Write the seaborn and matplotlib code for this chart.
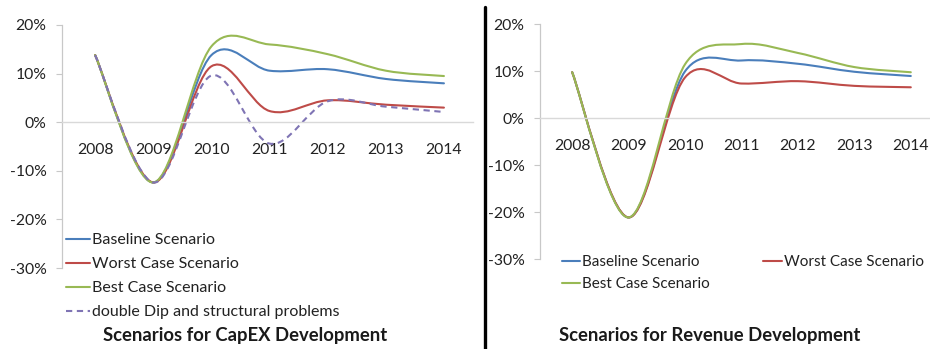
import numpy as np
import pandas as pd
import matplotlib
matplotlib.use("Agg")
import matplotlib.pyplot as plt
from matplotlib.path import Path
from matplotlib.patheffects import AbstractPathEffect
from matplotlib.transforms import Affine2D
from matplotlib.lines import Line2D
import seaborn as sns

# ---- data (growth rates in %) ----
years = [2008, 2009, 2010, 2011, 2012, 2013, 2014]

capex_baseline = [13.8, -12.4, 13.8, 10.6, 10.9, 8.9, 8.0]
capex_worst = [13.8, -12.4, 11.5, 2.3, 4.5, 3.6, 3.0]
capex_best = [13.8, -12.4, 15.6, 16.0, 14.0, 10.6, 9.5]
capex_double_dip = [13.8, -12.4, 9.6, -4.4, 4.3, 3.2, 2.1]

revenue_baseline = [9.8, -21.1, 10.0, 12.3, 11.6, 9.9, 9.0]
revenue_worst = [9.8, -21.1, 8.7, 7.4, 7.9, 6.9, 6.6]
revenue_best = [9.8, -21.1, 11.5, 15.8, 13.9, 10.9, 9.8]

scenario_names = ["Baseline Scenario", "Worst Case Scenario",
                  "Best Case Scenario", "double Dip and structural problems"]
scenario_colors = ["#4a7ebb", "#be4b48", "#98b954", "#7f74b4"]
y_ticks = [-30, -20, -10, 0, 10, 20]
panel_titles = ["Scenarios for CapEX Development", "Scenarios for Revenue Development"]


class SmoothLine(AbstractPathEffect):
    """Draw a polyline as a smoothed Bezier curve through its vertices
    (1/6 tangents, control arms capped at half the segment length)."""

    def draw_path(self, renderer, gc, tpath, affine, rgbFace=None):
        v = affine.transform(np.asarray(tpath.vertices))
        n = len(v)
        if n < 3:
            renderer.draw_path(gc, tpath, affine, rgbFace)
            return
        verts = [v[0]]
        codes = [Path.MOVETO]
        for i in range(n - 1):
            p1, p2 = v[i], v[i + 1]
            p0 = v[i - 1] if i > 0 else p1
            p3 = v[i + 2] if i + 2 < n else p2
            d02 = np.hypot(*(p2 - p0))
            d12 = np.hypot(*(p2 - p1))
            d13 = np.hypot(*(p3 - p1))
            f0 = 1 / 6 if d02 / 6 < d12 / 2 else d12 / d02 / 2
            f1 = 1 / 6 if d13 / 6 < d12 / 2 else d12 / d13 / 2
            verts += [p1 + (p2 - p0) * f0, p2 - (p3 - p1) * f1, p2]
            codes += [Path.CURVE4] * 3
        renderer.draw_path(gc, Path(np.array(verts), codes), Affine2D(), rgbFace)


def long_frame(series):
    rows = []
    for name, vals in series:
        for yr, val in zip(years, vals):
            rows.append({"Year": yr, "Growth": val, "Scenario": name})
    return pd.DataFrame(rows)


sns.set_theme(style="white")
plt.rcParams["font.family"] = ["Lato", "DejaVu Sans"]
plt.rcParams["text.color"] = "#222222"

W, H = 930, 349
fig = plt.figure(figsize=(W / 100, H / 100), dpi=100)
LW = 1.5
FS = 11


def px_axes(x0, x1, ytop, ybot):
    return fig.add_axes([x0 / W, 1 - ybot / H, (x1 - x0) / W, (ybot - ytop) / H])


def style_axes(ax, xlim):
    ax.set_xlim(*xlim)
    ax.set_ylim(-30, 20)
    ax.set_xticks(years)
    ax.set_xticklabels([str(y) for y in years])
    ax.set_yticks(y_ticks)
    ax.set_yticklabels([f"{t}%" for t in y_ticks])
    ax.set_xlabel("")
    ax.set_ylabel("")
    for s in ["top", "right"]:
        ax.spines[s].set_visible(False)
    ax.spines["bottom"].set_position(("data", 0))
    ax.spines["bottom"].set_color("#d9d9d9")
    ax.spines["bottom"].set_linewidth(1.0)
    ax.spines["left"].set_color("#c8c8c8")
    ax.spines["left"].set_linewidth(0.9)
    ax.tick_params(axis="x", length=0, pad=15, labelsize=FS + 0.3, labelcolor="#222222")
    ax.tick_params(axis="y", length=4, width=0.8, color="#c8c8c8", pad=7,
                   labelsize=FS + 0.3, labelcolor="#222222", left=True)
    ax.set_facecolor("none")
    for line in ax.lines:
        if len(line.get_xdata()) > 2:
            line.set_path_effects([SmoothLine()])


# ---- left panel: CapEX ----
ax1 = px_axes(62, 473, 25, 268)
capex_df = long_frame(zip(scenario_names,
                          [capex_baseline, capex_worst, capex_best, capex_double_dip]))
sns.lineplot(data=capex_df, x="Year", y="Growth", hue="Scenario", style="Scenario",
             hue_order=scenario_names, style_order=scenario_names,
             palette=dict(zip(scenario_names, scenario_colors)),
             dashes={scenario_names[0]: "", scenario_names[1]: "",
                     scenario_names[2]: "", scenario_names[3]: (3, 2.2)},
             linewidth=LW, errorbar=None, ax=ax1)
style_axes(ax1, (2007.43, 2014.5))
h1 = ax1.legend_.legend_handles
ax1.legend_.remove()
ax1.legend(h1, scenario_names, loc="upper left", bbox_to_anchor=(66 / W, 1 - 233 / H),
           bbox_transform=fig.transFigure, frameon=False, fontsize=FS + 0.5,
           handlelength=1.5, handletextpad=0.15, labelspacing=0.62, borderpad=0,
           borderaxespad=0)

# ---- right panel: Revenue ----
ax2 = px_axes(540, 930, 24.3, 259.3)
rev_names = scenario_names[:3]
rev_df = long_frame(zip(rev_names, [revenue_baseline, revenue_worst, revenue_best]))
sns.lineplot(data=rev_df, x="Year", y="Growth", hue="Scenario",
             hue_order=rev_names, palette=dict(zip(rev_names, scenario_colors[:3])),
             linewidth=LW, errorbar=None, ax=ax2)
style_axes(ax2, (2007.43, 2014.34))
h2 = ax2.legend_.legend_handles
ax2.legend_.remove()
order = [0, 2, 1]
ax2.legend([h2[i] for i in order], [rev_names[i] for i in order], ncol=2,
           loc="upper left", bbox_to_anchor=(562 / W, 1 - 255 / H),
           bbox_transform=fig.transFigure, frameon=False, fontsize=FS,
           handlelength=1.2, handletextpad=0.12, labelspacing=0.55, borderpad=0,
           borderaxespad=0, columnspacing=3.5)

# ---- panel titles and divider ----
fig.text(245 / W, 1 - 335 / H, panel_titles[0], ha="center", va="center",
         fontsize=13.3, fontweight="bold", color="#1a1a1a")
fig.text(710 / W, 1 - 336 / H, panel_titles[1], ha="center", va="center",
         fontsize=13.3, fontweight="bold", color="#1a1a1a")
fig.add_artist(Line2D([484.5 / W, 484.5 / W], [0, 1 - 7 / H], color="black",
                      linewidth=2.4, transform=fig.transFigure))

fig.savefig("out.png", dpi=100)
